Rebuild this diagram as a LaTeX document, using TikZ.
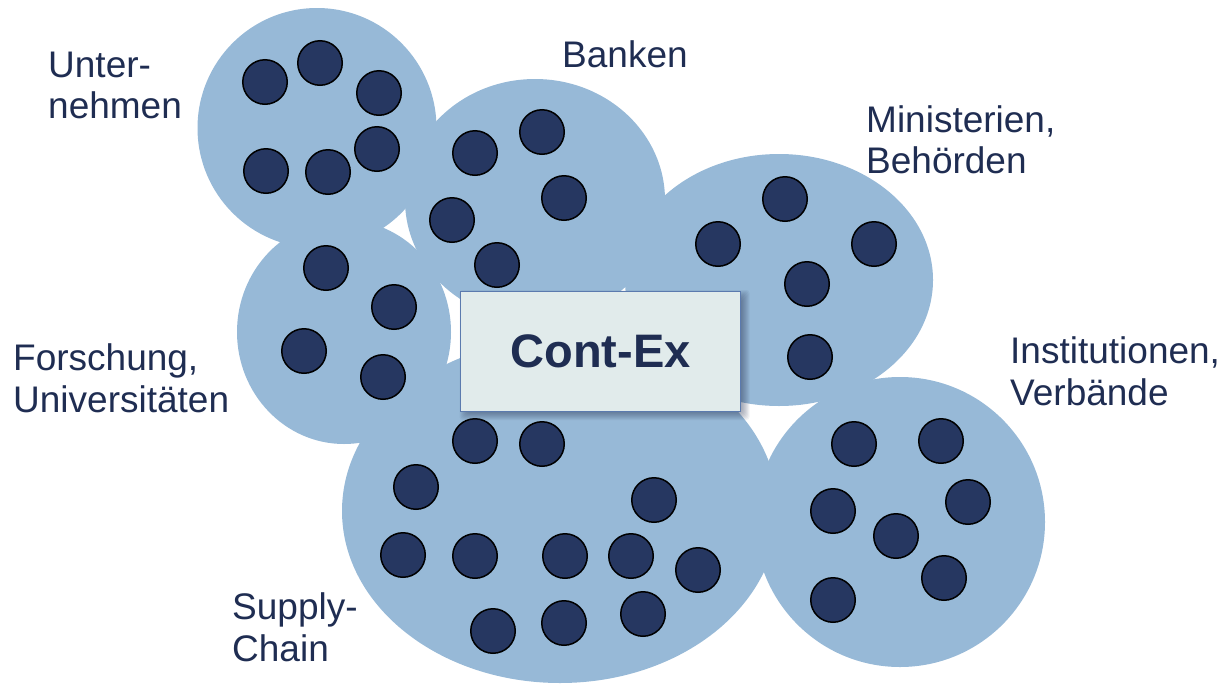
\documentclass[tikz,border=0pt]{standalone}
\usepackage{fontspec}
\setmainfont{Liberation Sans}
\definecolor{blob}{RGB}{151,185,215}
\definecolor{dotc}{RGB}{38,55,97}
\definecolor{txt}{RGB}{31,45,82}
\definecolor{boxfill}{RGB}{225,235,235}
\definecolor{boxline}{RGB}{91,122,174}
\definecolor{shade}{RGB}{40,50,80}
\tikzset{
  blobstyle/.style={fill=blob, draw=none},
  dotstyle/.style={circle, fill=dotc, draw=black, line width=1.5pt, minimum size=44.5pt, inner sep=0pt},
  lbl/.style={anchor=base west, inner sep=0pt, text=txt, font=\fontsize{37}{41}\selectfont},
  centerbox/.style={rectangle, fill=boxfill, draw=boxline, line width=1pt, minimum width=280pt, minimum height=120pt, inner sep=0pt,
     text=txt, font=\fontsize{47}{52}\selectfont\bfseries},
  softshadow/.style={fill=shade, opacity=0.06, draw=none}
}
\begin{document}
\begin{tikzpicture}[x=1pt, y=-1pt]
\useasboundingbox (0,0) rectangle (1223,683);
% blobs
\fill[blobstyle] (317,128) ellipse [x radius=119.5pt, y radius=120pt];
\fill[blobstyle] (535,200) ellipse [x radius=130pt, y radius=121pt];
\fill[blobstyle] (779,280) ellipse [x radius=154pt, y radius=126pt];
\fill[blobstyle] (344,332) ellipse [x radius=107pt, y radius=112pt];
\fill[blobstyle] (560,511) ellipse [x radius=218pt, y radius=172pt];
\fill[blobstyle] (900,522) ellipse [x radius=145pt, y radius=145pt];
% Unternehmen dots
\node[dotstyle] (u1) at (265,82) {};
\node[dotstyle] (u2) at (320,63) {};
\node[dotstyle] (u3) at (379,93) {};
\node[dotstyle] (u4) at (377,149) {};
\node[dotstyle] (u5) at (266,171) {};
\node[dotstyle] (u6) at (328,172) {};
% Banken dots
\node[dotstyle] (b1) at (475,153) {};
\node[dotstyle] (b2) at (542,132) {};
\node[dotstyle] (b3) at (564,198) {};
\node[dotstyle] (b4) at (452,220) {};
\node[dotstyle] (b5) at (497,265) {};
% Forschung dots
\node[dotstyle] (f1) at (326,268) {};
\node[dotstyle] (f2) at (394,307) {};
\node[dotstyle] (f3) at (304,351) {};
\node[dotstyle] (f4) at (383,377) {};
% Ministerien dots
\node[dotstyle] (m1) at (785,199) {};
\node[dotstyle] (m2) at (718,244) {};
\node[dotstyle] (m3) at (874,244) {};
\node[dotstyle] (m4) at (807,284) {};
\node[dotstyle] (m5) at (810,357) {};
% Institutionen dots
\node[dotstyle] (i1) at (854,444) {};
\node[dotstyle] (i2) at (941,441) {};
\node[dotstyle] (i3) at (833,511) {};
\node[dotstyle] (i4) at (968,502) {};
\node[dotstyle] (i5) at (896,536) {};
\node[dotstyle] (i6) at (944,578) {};
\node[dotstyle] (i7) at (833,600) {};
% Supply chain dots
\node[dotstyle] (s1) at (475,441) {};
\node[dotstyle] (s2) at (542,444) {};
\node[dotstyle] (s3) at (416,487) {};
\node[dotstyle] (s4) at (654,500) {};
\node[dotstyle] (s5) at (403,555) {};
\node[dotstyle] (s6) at (475,556) {};
\node[dotstyle] (s7) at (565,556) {};
\node[dotstyle] (s8) at (631,556) {};
\node[dotstyle] (s9) at (698,570) {};
\node[dotstyle] (s10) at (493,631) {};
\node[dotstyle] (s11) at (564,623) {};
\node[dotstyle] (s12) at (643,614) {};
% soft shadow of the centre box
\foreach \k in {-3,...,5} {
  \fill[softshadow, rounded corners=3pt] (604.5-140-\k, 355-60-\k) rectangle (604.5+140+\k, 355+60+\k);
}
% centre box
\node[centerbox] (cont) at (600.5,351) {Cont-Ex};
% labels
\node[lbl] (unt1) at (48,77) {Unter-};
\node[lbl] (unt2) at (48,118) {nehmen};
\node[lbl] (bank) at (562,67) {Banken};
\node[lbl] (min1) at (866,132) {Ministerien,};
\node[lbl] (min2) at (866,173) {Behörden};
\node[lbl] (for1) at (13,370) {Forschung,};
\node[lbl] (for2) at (13,412) {Universitäten};
\node[lbl] (ins1) at (1010,363) {Institutionen,};
\node[lbl] (ins2) at (1010,405) {Verbände};
\node[lbl] (sup1) at (232,619) {Supply-};
\node[lbl] (sup2) at (232,661) {Chain};
\end{tikzpicture}
\end{document}
